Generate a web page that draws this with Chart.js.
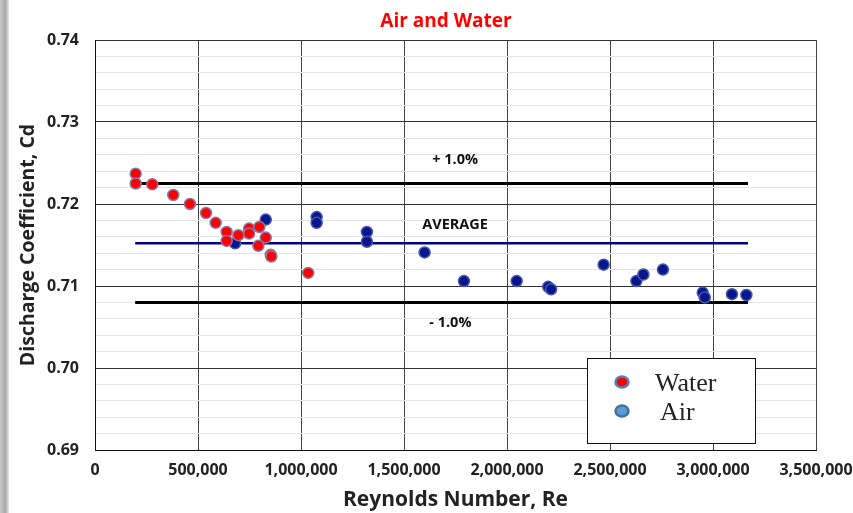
<!DOCTYPE html>
<html>
<head>
<meta charset="utf-8">
<script src="https://cdn.jsdelivr.net/npm/chart.js@4"></script>
<style>
  body { margin: 0; background: #fff; }
</style>
</head>
<body>
<canvas id="chart" width="853" height="513"></canvas>
<script>
// Water and air calibration points (Reynolds number vs discharge coefficient)
const waterRe = [197500, 197500, 278000, 380000, 461000, 539000, 586000, 639000, 639000, 696000,
                 748000, 748000, 798000, 829000, 793000, 853000, 856000, 1035000];
const waterCd = [0.7237, 0.7225, 0.7224, 0.7211, 0.7200, 0.7189, 0.7177, 0.7166, 0.7155, 0.7162,
                 0.7170, 0.7164, 0.7172, 0.7159, 0.7149, 0.7138, 0.7136, 0.7116];

const airRe = [680000, 829000, 1076000, 1076000, 1320000, 1320000, 1600000, 1791000, 2047000, 2200000,
               2214000, 2469000, 2628000, 2662000, 2757000, 2950000, 2960000, 3092000, 3162000];
const airCd = [0.7152, 0.7181, 0.7184, 0.7177, 0.7166, 0.7154, 0.7141, 0.7106, 0.7106, 0.7099,
               0.7096, 0.7126, 0.7106, 0.7114, 0.7120, 0.7092, 0.7086, 0.7090, 0.7089];

// average and +/- 1% band
const bandRe = [195000, 3170000];
const plusCd = 0.7225;
const avgCd = 0.7152;
const minusCd = 0.7080;

const bandLabels = [
    { text: '+ 1.0%', x: 1748000, y: 0.72537 },
    { text: 'AVERAGE', x: 1748000, y: 0.71744 },
    { text: '- 1.0%', x: 1725000, y: 0.70549 }
];

const legendItems = ['Water', 'Air'];

function toPoints(xs, ys) {
    return xs.map((x, i) => ({ x: x, y: ys[i] }));
}

function bandLine(cd) {
    return bandRe.map(x => ({ x: x, y: cd }));
}

const decorPlugin = {
    id: 'decor',
    beforeDraw(chart) {
        const ctx = chart.ctx;
        // grey window edge on the left
        const g = ctx.createLinearGradient(0, 0, 9, 0);
        g.addColorStop(0, '#c8c8c8');
        g.addColorStop(0.6, '#a8a8a8');
        g.addColorStop(1, '#e8e8e8');
        ctx.save();
        ctx.fillStyle = g;
        ctx.fillRect(0, 0, 9, chart.height);
        ctx.restore();
    },
    afterDraw(chart) {
        const ctx = chart.ctx;
        const xs = chart.scales.x, ys = chart.scales.y;
        ctx.save();
        // title
        ctx.fillStyle = '#ff0000';
        ctx.font = 'bold 19px "Open Sans"';
        ctx.textAlign = 'center';
        ctx.textBaseline = 'middle';
        ctx.fillText('Air and Water', 446, 22);

        // band labels
        ctx.fillStyle = '#111';
        ctx.font = 'bold 14.5px "Open Sans"';
        bandLabels.forEach(l => {
            ctx.fillText(l.text, xs.getPixelForValue(l.x), ys.getPixelForValue(l.y));
        });

        // legend box
        const bx = 587, by = 358, bw = 168, bh = 85;
        ctx.fillStyle = '#fff';
        ctx.fillRect(bx, by, bw, bh);
        ctx.strokeStyle = '#111';
        ctx.lineWidth = 1;
        ctx.strokeRect(bx + 0.5, by + 0.5, bw, bh);

        const fills = ['#ff0000', '#5b9bd5'];
        const edges = ['#4f81bd', '#41719c'];
        legendItems.forEach((name, i) => {
            const cy = 382 + i * 29;
            ctx.beginPath();
            ctx.ellipse(622, cy, 6.5, 5.5, 0, 0, Math.PI * 2);
            ctx.fillStyle = fills[i];
            ctx.fill();
            ctx.lineWidth = 2.5;
            ctx.strokeStyle = edges[i];
            ctx.stroke();
            ctx.fillStyle = '#222';
            ctx.font = '26px "Liberation Serif"';
            ctx.textAlign = 'left';
            ctx.fillText(name, i === 0 ? 655 : 660, cy + 2);
        });
        ctx.restore();
    }
};

new Chart(document.getElementById('chart'), {
    type: 'scatter',
    data: {
        datasets: [
            {
                label: 'Water',
                data: toPoints(waterRe, waterCd),
                backgroundColor: '#ff0000',
                borderColor: '#8878a8',
                borderWidth: 1.5,
                pointRadius: 5.5,
                order: 1
            },
            {
                label: 'Air',
                data: toPoints(airRe, airCd),
                backgroundColor: '#08168e',
                borderColor: '#4656aa',
                borderWidth: 1.5,
                pointRadius: 5.5,
                order: 1
            },
            {
                label: '+1%',
                data: bandLine(plusCd),
                showLine: true,
                borderColor: '#000',
                borderWidth: 3,
                pointRadius: 0,
                order: 2
            },
            {
                label: 'Average',
                data: bandLine(avgCd),
                showLine: true,
                borderColor: '#00008b',
                borderWidth: 2.5,
                pointRadius: 0,
                order: 2
            },
            {
                label: '-1%',
                data: bandLine(minusCd),
                showLine: true,
                borderColor: '#000',
                borderWidth: 3,
                pointRadius: 0,
                order: 2
            }
        ]
    },
    options: {
        responsive: false,
        animation: false,
        layout: { padding: { top: 40, right: 37, left: 17, bottom: 0 } },
        plugins: {
            legend: { display: false },
            tooltip: { enabled: false }
        },
        scales: {
            x: {
                type: 'linear',
                min: 0,
                max: 3500000,
                afterFit: s => {
                    s.height = 63;
                    s.paddingLeft = 0;
                    s.paddingRight = 0;
                },
                ticks: {
                    stepSize: 500000,
                    padding: 11,
                    color: '#222',
                    font: { family: 'Open Sans', weight: 'bold', size: 16 },
                    maxRotation: 0,
                    callback: v => v.toLocaleString('en-US')
                },
                grid: { color: '#444', drawTicks: false },
                border: { color: '#111' },
                title: {
                    display: true,
                    text: 'Reynolds Number, Re',
                    color: '#222',
                    font: { family: 'Open Sans', weight: 'bold', size: 21 },
                    padding: { top: 2, bottom: 0 }
                }
            },
            y: {
                min: 0.69,
                max: 0.74,
                afterFit: s => { s.width = 78; },
                ticks: {
                    stepSize: 0.002,
                    padding: 16,
                    color: '#222',
                    font: { family: 'Open Sans', weight: 'bold', size: 16 },
                    autoSkip: false,
                    callback: v => (Math.round(v * 1000) % 10 === 0 ? v.toFixed(2) : '')
                },
                grid: {
                    drawTicks: false,
                    color: c => (Math.round(c.tick.value * 1000) % 10 === 0 ? '#333' : '#e4e4e4')
                },
                border: { color: '#111' },
                title: {
                    display: true,
                    text: 'Discharge Coefficient, Cd',
                    color: '#222',
                    font: { family: 'Open Sans', weight: 'bold', size: 19.5 },
                    padding: { top: 0, bottom: 0 }
                }
            }
        }
    },
    plugins: [decorPlugin]
});
</script>
</body>
</html>
